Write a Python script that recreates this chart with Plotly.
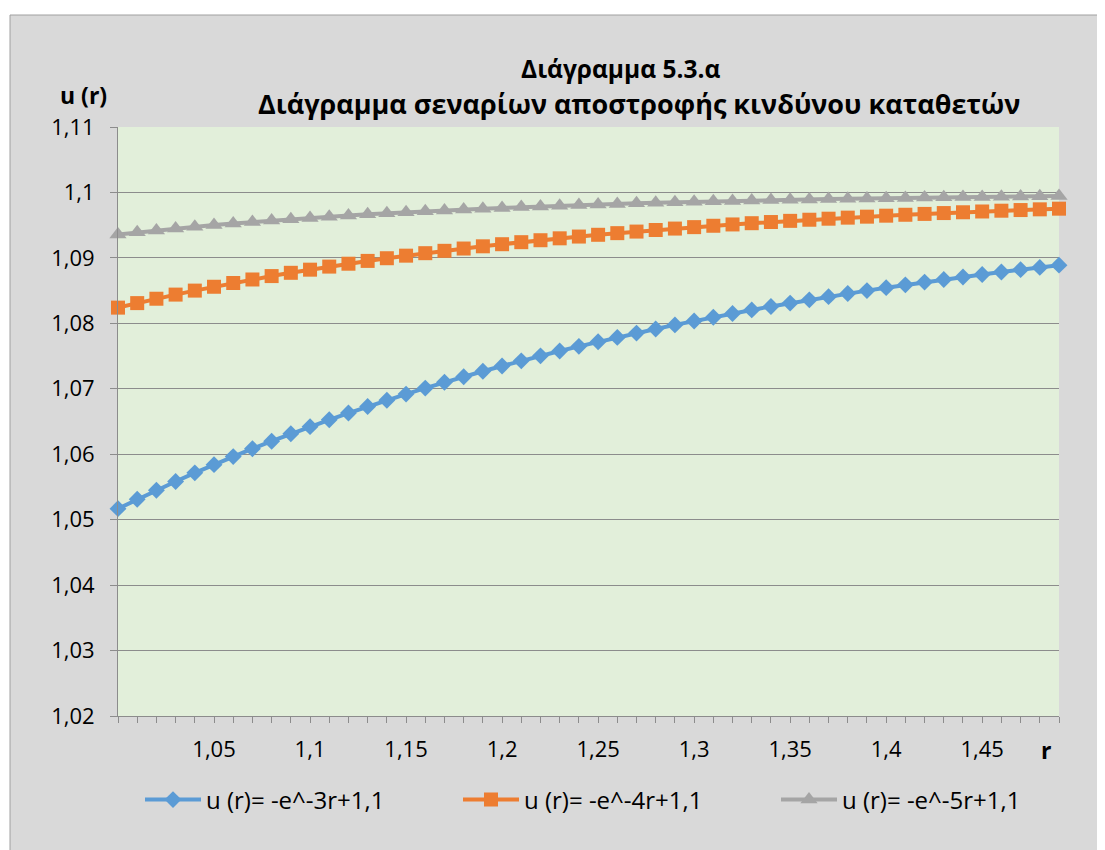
import plotly.graph_objects as go

# x positions
r_values = [1.00, 1.01, 1.02, 1.03, 1.04, 1.05, 1.06, 1.07, 1.08, 1.09,
            1.10, 1.11, 1.12, 1.13, 1.14, 1.15, 1.16, 1.17, 1.18, 1.19,
            1.20, 1.21, 1.22, 1.23, 1.24, 1.25, 1.26, 1.27, 1.28, 1.29,
            1.30, 1.31, 1.32, 1.33, 1.34, 1.35, 1.36, 1.37, 1.38, 1.39,
            1.40, 1.41, 1.42, 1.43, 1.44, 1.45, 1.46, 1.47, 1.48, 1.49]

u_e3 = [1.05168, 1.05311, 1.05450, 1.05584, 1.05715, 1.05841, 1.05964, 1.06084, 1.06199, 1.06312,
        1.06421, 1.06526, 1.06629, 1.06729, 1.06825, 1.06919, 1.07010, 1.07099, 1.07184, 1.07268,
        1.07348, 1.07427, 1.07503, 1.07577, 1.07648, 1.07718, 1.07785, 1.07851, 1.07914, 1.07976,
        1.08036, 1.08094, 1.08150, 1.08205, 1.08258, 1.08309, 1.08359, 1.08408, 1.08455, 1.08500,
        1.08545, 1.08588, 1.08630, 1.08670, 1.08709, 1.08747, 1.08784, 1.08820, 1.08855, 1.08889]

u_e4 = [1.08240, 1.08309, 1.08376, 1.08439, 1.08500, 1.08559, 1.08616, 1.08670, 1.08722, 1.08772,
        1.08820, 1.08867, 1.08911, 1.08954, 1.08995, 1.09034, 1.09072, 1.09108, 1.09143, 1.09177,
        1.09209, 1.09240, 1.09270, 1.09299, 1.09326, 1.09353, 1.09378, 1.09402, 1.09426, 1.09448,
        1.09470, 1.09491, 1.09511, 1.09530, 1.09548, 1.09566, 1.09583, 1.09599, 1.09615, 1.09630,
        1.09645, 1.09659, 1.09672, 1.09685, 1.09697, 1.09709, 1.09721, 1.09731, 1.09742, 1.09752]

u_e5 = [1.09359, 1.09390, 1.09420, 1.09448, 1.09475, 1.09501, 1.09525, 1.09548, 1.09570, 1.09591,
        1.09611, 1.09630, 1.09648, 1.09665, 1.09682, 1.09697, 1.09712, 1.09726, 1.09739, 1.09752,
        1.09764, 1.09776, 1.09787, 1.09797, 1.09807, 1.09816, 1.09825, 1.09834, 1.09842, 1.09850,
        1.09857, 1.09864, 1.09871, 1.09877, 1.09883, 1.09889, 1.09894, 1.09899, 1.09904, 1.09909,
        1.09913, 1.09917, 1.09922, 1.09925, 1.09929, 1.09932, 1.09936, 1.09939, 1.09942, 1.09945]

series_names = ["u (r)= -e^-3r+1,1", "u (r)= -e^-4r+1,1", "u (r)= -e^-5r+1,1"]

x_tickvals = [1.05, 1.10, 1.15, 1.20, 1.25, 1.30, 1.35, 1.40, 1.45]
x_ticktext = ["1,05", "1,1", "1,15", "1,2", "1,25", "1,3", "1,35", "1,4", "1,45"]
y_tickvals = [1.02, 1.03, 1.04, 1.05, 1.06, 1.07, 1.08, 1.09, 1.10, 1.11]
y_ticktext = ["1,02", "1,03", "1,04", "1,05", "1,06", "1,07", "1,08", "1,09", "1,1", "1,11"]

title_line1 = "Διάγραμμα 5.3.α"
title_line2 = "Διάγραμμα σεναρίων αποστροφής κινδύνου καταθετών"
y_title = "u (r)"
x_title = "r"

FONT = "Open Sans"
OFF = 8  # page body margin
W, H = 1105 - OFF, 850 - OFF
# plot area in reference pixels: x 118..1059, y 127..716
PL, PR, PT, PB = 118 - OFF, 1059 - OFF, 127 - OFF, 716 - OFF
L, R, T, B = PL, W - PR, PT, H - PB
pw, ph = PR - PL, PB - PT


def px_x(p):
    return (p - OFF - PL) / pw


def px_y(p):
    return (PB - (p - OFF)) / ph


AX = "#8C8C8C"

fig = go.Figure()
fig.add_trace(go.Scatter(x=r_values, y=u_e5, name=series_names[2], mode="lines+markers",
                         line=dict(color="#A5A5A5", width=4),
                         marker=dict(symbol="triangle-up", size=15, color="#A5A5A5"),
                         cliponaxis=False, legend="legend3"))
fig.add_trace(go.Scatter(x=r_values, y=u_e4, name=series_names[1], mode="lines+markers",
                         line=dict(color="#ED7D31", width=4),
                         marker=dict(symbol="square", size=14, color="#ED7D31"),
                         cliponaxis=False, legend="legend2"))
fig.add_trace(go.Scatter(x=r_values, y=u_e3, name=series_names[0], mode="lines+markers",
                         line=dict(color="#5B9BD5", width=4),
                         marker=dict(symbol="diamond", size=13, color="#5B9BD5"),
                         cliponaxis=False, legend="legend"))


def leg(xpx):
    return dict(orientation="h", x=px_x(xpx), xanchor="left", y=px_y(800), yanchor="middle",
                bgcolor="rgba(0,0,0,0)", font=dict(size=24, family=FONT), itemwidth=56)


fig.update_layout(
    width=W, height=H,
    margin=dict(l=L, r=R, t=T, b=B),
    paper_bgcolor="white",
    plot_bgcolor="rgba(0,0,0,0)",
    font=dict(family=FONT, size=22, color="black"),
    showlegend=True,
    legend=leg(140), legend2=leg(458), legend3=leg(776),
    shapes=[dict(type="rect", xref="paper", yref="paper",
                 x0=px_x(10), x1=px_x(1120), y0=px_y(15), y1=px_y(870),
                 fillcolor="#D9D9D9", line=dict(color="#A0A0A0", width=1),
                 layer="below"),
            dict(type="rect", xref="paper", yref="paper", x0=0, x1=1, y0=0, y1=1,
                 fillcolor="#E2EFDA", line=dict(width=0), layer="below")],
    annotations=[
        dict(text="<b>" + title_line1 + "</b>", xref="paper", yref="paper",
             x=px_x(620), y=px_y(68), showarrow=False, font=dict(size=24.5, family=FONT),
             xanchor="center", yanchor="middle"),
        dict(text="<b>" + title_line2 + "</b>", xref="paper", yref="paper",
             x=px_x(639), y=px_y(104), showarrow=False, font=dict(size=27, family=FONT),
             xanchor="center", yanchor="middle"),
        dict(text="<b>" + y_title + "</b>", xref="paper", yref="paper",
             x=px_x(83), y=px_y(95), showarrow=False, font=dict(size=23, family=FONT),
             xanchor="center", yanchor="middle"),
        dict(text="<b>" + x_title + "</b>", xref="paper", yref="paper",
             x=px_x(1046), y=px_y(750), showarrow=False, font=dict(size=23, family=FONT),
             xanchor="center", yanchor="middle"),
    ],
)

fig.update_xaxes(range=[1.00, 1.49], tickvals=x_tickvals, ticktext=x_ticktext,
                 showgrid=False, zeroline=False, showline=True, linecolor=AX, linewidth=1,
                 ticks="outside", ticklen=6, tickcolor=AX, ticklabelstandoff=8,
                 minor=dict(tick0=1.0, dtick=0.01, ticks="outside", ticklen=6,
                            tickcolor=AX, showgrid=False))
fig.update_yaxes(range=[1.02, 1.11], tickvals=y_tickvals, ticktext=y_ticktext,
                 showgrid=True, gridcolor=AX, gridwidth=1, zeroline=False,
                 showline=True, linecolor=AX, linewidth=1,
                 ticks="outside", ticklen=7, tickcolor=AX, ticklabelstandoff=11)

fig.write_html("out.html")
